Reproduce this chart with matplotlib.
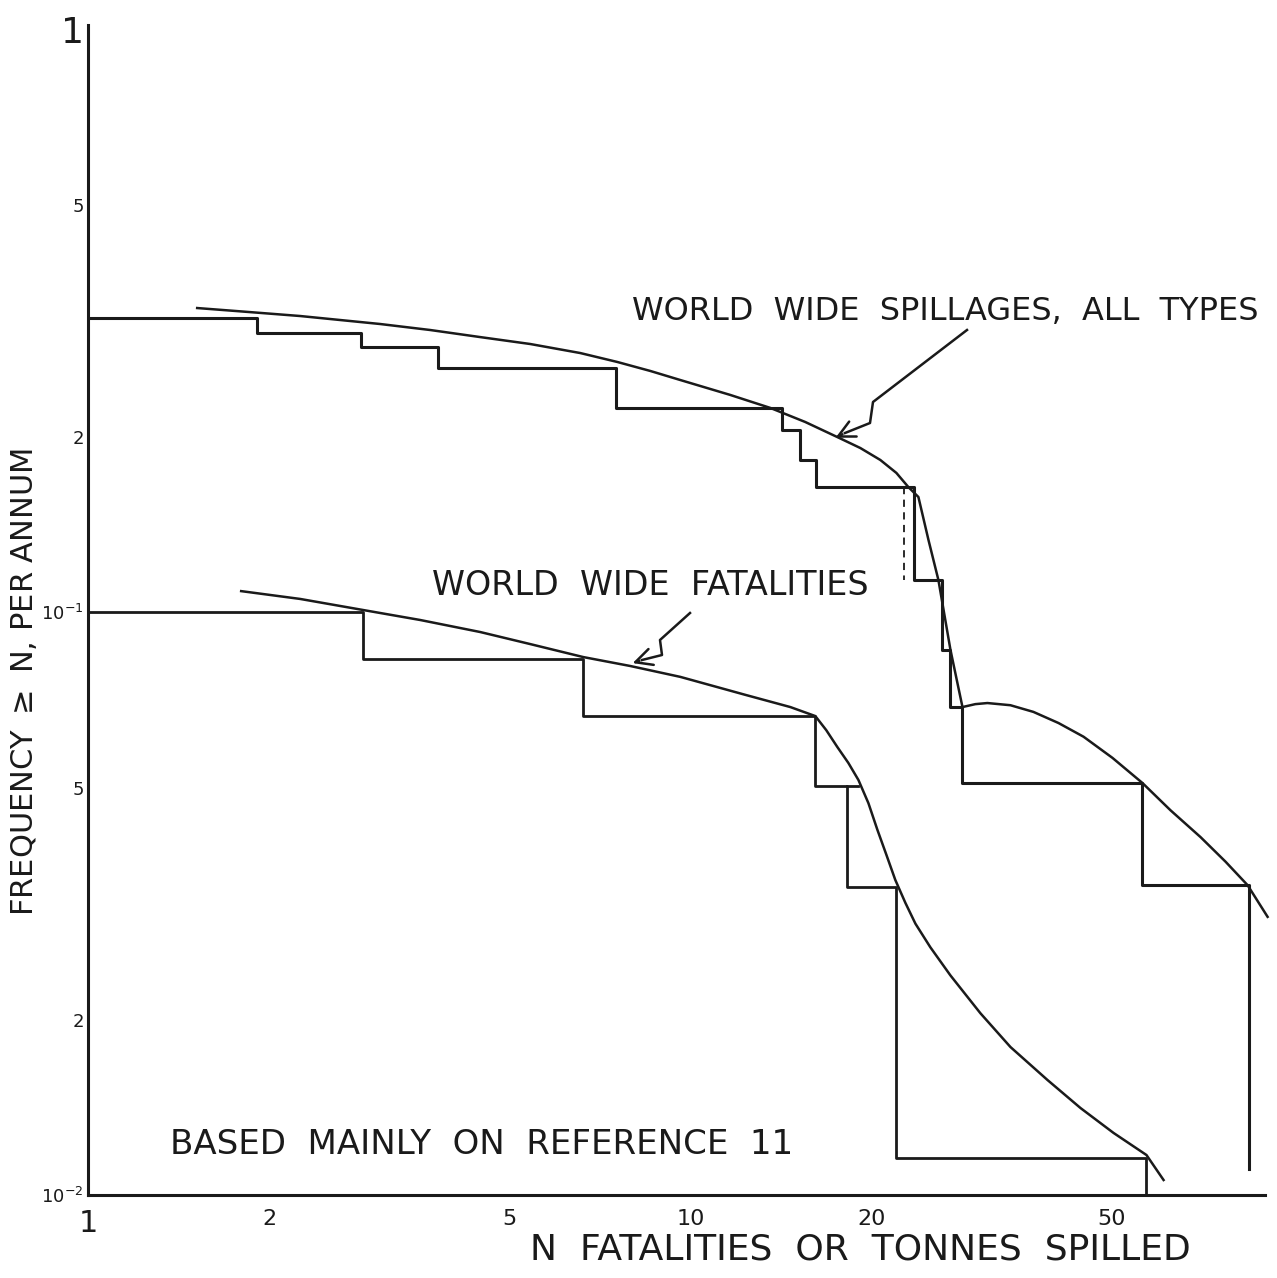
import matplotlib
matplotlib.use("Agg")
import matplotlib.pyplot as plt
import numpy as np

# cumulative frequency (per annum) of events with >= N, step form
spill_x = [1.0, 1.91, 2.84, 3.81, 7.54, 14.2, 15.2, 16.2, 23.5, 26.2, 27.0, 28.3, 56.3, 84.5]
spill_y = [0.319, 0.301, 0.285, 0.262, 0.224, 0.205, 0.182, 0.164, 0.1135, 0.0861, 0.0687,
           0.0509, 0.034, 0.0111]

fatal_x = [1.0, 2.86, 6.64, 16.13, 18.23, 21.99, 57.2]
fatal_y = [0.1, 0.0831, 0.0663, 0.0503, 0.0338, 0.01157, 0.01]

# hand-fitted smooth curves through the steps
spill_cx = [1.518, 1.810, 2.250, 3.055, 3.699, 4.479, 5.424, 6.567, 7.562, 8.583, 9.625,
            11.65, 13.58, 15.52, 17.54, 19.16, 20.68, 21.99, 23.02, 23.92, 24.86, 25.82,
            27.04, 28.31, 29.74, 31.14, 34.01, 37.13, 40.87, 44.98, 50.24, 56.33, 62.71,
            70.35, 77.40, 84.2, 90.9]
spill_cy = [0.3322, 0.3276, 0.3219, 0.3119, 0.3046, 0.2962, 0.2882, 0.2781, 0.2685, 0.2591,
            0.2500, 0.2357, 0.2239, 0.2118, 0.1996, 0.1911, 0.1823, 0.1732, 0.1638, 0.1575,
            0.1329, 0.1135, 0.0861, 0.0687, 0.0695, 0.0698, 0.0692, 0.0674, 0.0645, 0.0611,
            0.0562, 0.0509, 0.0457, 0.0411, 0.0373, 0.034, 0.030]

fatal_cx = [1.796, 2.250, 2.862, 3.560, 4.479, 5.424, 6.642, 7.948, 9.625, 12.34, 14.66,
            16.13, 16.82, 17.54, 18.30, 19.02, 19.76, 20.45, 21.17, 21.90, 22.76, 23.65,
            25.04, 27.04, 30.32, 34.01, 39.18, 44.45, 50.43, 57.21, 61.07]
fatal_cy = [0.1086, 0.1053, 0.1008, 0.0969, 0.0924, 0.0881, 0.0837, 0.0808, 0.0774, 0.0721,
            0.0687, 0.0663, 0.0627, 0.0587, 0.0551, 0.0515, 0.0470, 0.0423, 0.0383, 0.0347,
            0.0317, 0.0292, 0.0266, 0.0238, 0.0205, 0.01794, 0.01575, 0.01410, 0.01278,
            0.01171, 0.01061]

xticks = [1, 2, 5, 10, 20, 50]
xlabels = ["1", "2", "5", "10", "20", "50"]
yticks = [1, 0.5, 0.2, 0.1, 0.05, 0.02, 0.01]
ylabels = ["1", "5", "2", r"$10^{-1}$", "5", "2", r"$10^{-2}$"]

W, H = 1277, 1278
fig = plt.figure(figsize=(W / 100, H / 100), dpi=100)
ax = fig.add_axes([88 / W, 1 - 1195 / H, (1265 - 88) / W, (1195 - 25) / H])
ax.set_xscale("log")
ax.set_yscale("log")
ax.set_xlim(1, 90)
ax.set_ylim(0.01, 1.016)

lc = "#1a1a1a"
ax.step(spill_x, spill_y, where="post", color=lc, lw=2.2)
ax.step(fatal_x, fatal_y, where="post", color=lc, lw=2.0)
ax.plot([18.23, 19.0], [0.0503, 0.0503], color=lc, lw=2.0)
ax.plot([22.6, 22.6], [0.1638, 0.1135], color=lc, lw=1.3, ls=(0, (4, 3)))
ax.plot(spill_cx, spill_cy, color=lc, lw=1.8, clip_on=False)
ax.plot(fatal_cx, fatal_cy, color=lc, lw=1.8, clip_on=False)

for s in ["top", "right"]:
    ax.spines[s].set_visible(False)
for s in ["left", "bottom"]:
    ax.spines[s].set_linewidth(2.2)
    ax.spines[s].set_color(lc)

ax.minorticks_off()
ax.set_xticks(xticks)
ax.set_xticklabels(xlabels, fontsize=16)
ax.set_yticks(yticks)
ax.set_yticklabels(ylabels, fontsize=13)
ax.tick_params(length=0, colors=lc)
ax.tick_params(axis="x", pad=10)
ax.tick_params(axis="y", pad=3)
ax.get_yticklabels()[0].set_fontsize(26)
ax.get_xticklabels()[0].set_fontsize(22)

tkw = dict(transform=fig.transFigure, color=lc)
fig.text(530 / W, 1 - 1250 / H, "N  FATALITIES  OR  TONNES  SPILLED", fontsize=26,
         va="center", **tkw)
fig.text(24 / W, 1 - 682 / H, "FREQUENCY $\\geq$ N, PER ANNUM", fontsize=22, rotation=90,
         ha="center", va="center", **tkw)
fig.text(632 / W, 1 - 312 / H, "WORLD  WIDE  SPILLAGES,  ALL  TYPES", fontsize=23,
         va="center", **tkw)
fig.text(432 / W, 1 - 585 / H, "WORLD  WIDE  FATALITIES", fontsize=24, va="center", **tkw)
fig.text(170 / W, 1 - 1145 / H, "BASED  MAINLY  ON  REFERENCE  11", fontsize=24.5,
         va="center", **tkw)

# lightning-bolt pointers onto the curves
def bolt(pts, tip):
    xs = [p[0] / W for p in pts]
    ys = [1 - p[1] / H for p in pts]
    fig.add_artist(plt.Line2D(xs, ys, color=lc, lw=1.8, transform=fig.transFigure))
    ax.annotate("", xy=(tip[0] / W, 1 - tip[1] / H), xycoords="figure fraction",
                xytext=(xs[-1], ys[-1]), textcoords="figure fraction",
                arrowprops=dict(arrowstyle="->", color=lc, lw=1.8, mutation_scale=30))

bolt([(967, 330), (873, 402), (870, 423), (845, 433)], (833, 439))
bolt([(690, 613), (660, 640), (662, 655), (642, 660)], (630, 664))

fig.savefig("out.png", dpi=100, facecolor="white")
